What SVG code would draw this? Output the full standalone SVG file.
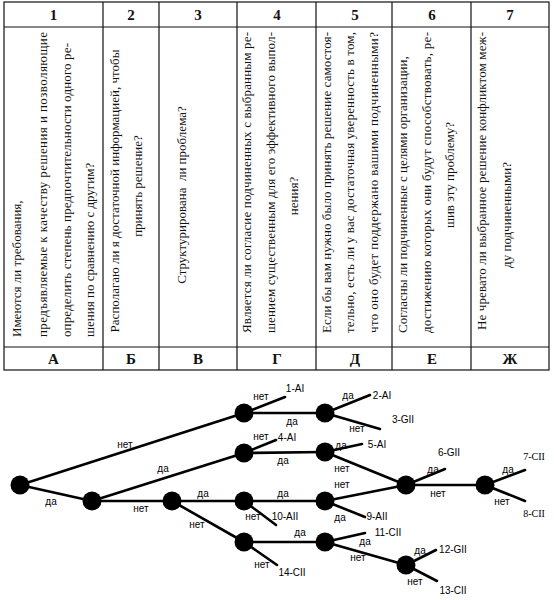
<svg xmlns="http://www.w3.org/2000/svg" width="554" height="600" viewBox="0 0 554 600">
<style>
.grid{stroke:#111;stroke-width:1.2;fill:none}
.hd{font-family:"Liberation Serif","DejaVu Serif",serif;font-size:15px;font-weight:bold;text-anchor:middle;fill:#111}
.tx{font-family:"Liberation Serif","DejaVu Serif",serif;font-size:13px;fill:#111}
.mid{text-anchor:middle}
.edge{stroke:#000;stroke-width:2.6;fill:none;stroke-linecap:round}
.node{fill:#000}
.lb{font-family:"Liberation Sans",Arial,sans-serif;font-size:10px;text-anchor:middle;fill:#000}
.lbs{font-family:"Liberation Serif","Times New Roman",serif;font-size:10px;text-anchor:middle;fill:#000}
</style>
<rect width="554" height="600" fill="#fff"/>
<g id="table">
<rect class="grid" x="4" y="2" width="545" height="368"/>
<line class="grid" x1="4" y1="27" x2="549" y2="27"/>
<line class="grid" x1="4" y1="347" x2="549" y2="347"/>
<line class="grid" x1="103" y1="2" x2="103" y2="370"/>
<line class="grid" x1="159" y1="2" x2="159" y2="370"/>
<line class="grid" x1="237" y1="2" x2="237" y2="370"/>
<line class="grid" x1="316" y1="2" x2="316" y2="370"/>
<line class="grid" x1="392" y1="2" x2="392" y2="370"/>
<line class="grid" x1="471" y1="2" x2="471" y2="370"/>
<text class="hd" x="53.5" y="20">1</text>
<text class="hd" x="131" y="20">2</text>
<text class="hd" x="198" y="20">3</text>
<text class="hd" x="277" y="20">4</text>
<text class="hd" x="355" y="20">5</text>
<text class="hd" x="432" y="20">6</text>
<text class="hd" x="510" y="20">7</text>
<text class="hd" x="53.5" y="364">А</text>
<text class="hd" x="131" y="364">Б</text>
<text class="hd" x="198" y="364">В</text>
<text class="hd" x="277" y="364">Г</text>
<text class="hd" x="355" y="364">Д</text>
<text class="hd" x="432" y="364">Е</text>
<text class="hd" x="510" y="364">Ж</text>
</g>
<g id="col1">
<text class="tx" transform="translate(21,337) rotate(-90)">Имеются ли требования,</text>
<text class="tx" transform="translate(47,337) rotate(-90)" textLength="305" lengthAdjust="spacing">предъявляемые к качеству решения и позволяющие</text>
<text class="tx" transform="translate(71,337) rotate(-90)" textLength="294" lengthAdjust="spacing">определить степень предпочтительности одного ре-</text>
<text class="tx" transform="translate(94,337) rotate(-90)">шения по сравнению с другим?</text>
</g>
<g id="col2">
<text class="tx mid" transform="translate(119,191) rotate(-90)">Располагаю ли я достаточной информацией, чтобы</text>
<text class="tx mid" transform="translate(142,186) rotate(-90)">принять решение?</text>
</g>
<g id="col3">
<text class="tx mid" transform="translate(186,195) rotate(-90)" xml:space="preserve">Структурирована  ли проблема?</text>
</g>
<g id="col4">
<text class="tx" transform="translate(251,333) rotate(-90)" textLength="301" lengthAdjust="spacing">Является ли согласие подчиненных с выбранным ре-</text>
<text class="tx" transform="translate(275,333) rotate(-90)" textLength="301" lengthAdjust="spacing">шением существенным для его эффективного выпол-</text>
<text class="tx mid" transform="translate(298,196) rotate(-90)">нения?</text>
</g>
<g id="col5">
<text class="tx" transform="translate(331,333) rotate(-90)" textLength="301" lengthAdjust="spacing">Если бы вам нужно было принять решение самостоя-</text>
<text class="tx" transform="translate(354,333) rotate(-90)" textLength="301" lengthAdjust="spacing">тельно, есть ли у вас достаточная уверенность в том,</text>
<text class="tx" transform="translate(378,333) rotate(-90)" textLength="301" lengthAdjust="spacing">что оно  будет поддержано вашими подчиненными?</text>
</g>
<g id="col6">
<text class="tx" transform="translate(407,333) rotate(-90)">Согласны ли подчиненные с целями организации,</text>
<text class="tx" transform="translate(431,333) rotate(-90)" textLength="301" lengthAdjust="spacing">достижению которых они будут способствовать, ре-</text>
<text class="tx mid" transform="translate(454,175) rotate(-90)">шив эту проблему?</text>
</g>
<g id="col7">
<text class="tx" transform="translate(486,330) rotate(-90)" textLength="298" lengthAdjust="spacing">Не чревато ли выбранное решение конфликтом меж-</text>
<text class="tx mid" transform="translate(511,215) rotate(-90)">ду подчиненными?</text>
</g>
<g id="connectors">
<line class="edge" x1="20" y1="485" x2="244" y2="413"/>
<line class="edge" x1="20" y1="485" x2="92" y2="501"/>
<line class="edge" x1="92" y1="501" x2="244" y2="453"/>
<line class="edge" x1="92" y1="501" x2="172" y2="501"/>
<line class="edge" x1="172" y1="501" x2="244" y2="501"/>
<line class="edge" x1="172" y1="501" x2="244" y2="542"/>
<line class="edge" x1="244" y1="413" x2="285" y2="397"/>
<line class="edge" x1="244" y1="413" x2="325" y2="413"/>
<line class="edge" x1="325" y1="413" x2="370" y2="395"/>
<line class="edge" x1="325" y1="413" x2="380" y2="429"/>
<line class="edge" x1="244" y1="453" x2="276" y2="440"/>
<line class="edge" x1="244" y1="453" x2="325" y2="452"/>
<line class="edge" x1="325" y1="452" x2="362" y2="444"/>
<line class="edge" x1="325" y1="452" x2="406" y2="485"/>
<line class="edge" x1="244" y1="501" x2="325" y2="501"/>
<line class="edge" x1="244" y1="501" x2="276" y2="525"/>
<line class="edge" x1="325" y1="501" x2="406" y2="485"/>
<line class="edge" x1="325" y1="501" x2="365" y2="517"/>
<line class="edge" x1="244" y1="542" x2="325" y2="542"/>
<line class="edge" x1="244" y1="542" x2="277" y2="565"/>
<line class="edge" x1="325" y1="542" x2="365" y2="533"/>
<line class="edge" x1="325" y1="542" x2="406" y2="565"/>
<line class="edge" x1="406" y1="485" x2="445" y2="469"/>
<line class="edge" x1="406" y1="485" x2="485" y2="485"/>
<line class="edge" x1="406" y1="565" x2="436" y2="550"/>
<line class="edge" x1="406" y1="565" x2="437" y2="581"/>
<line class="edge" x1="485" y1="485" x2="525" y2="470"/>
<line class="edge" x1="485" y1="485" x2="525" y2="501"/>
</g>
<g id="n0"><circle class="node" cx="20" cy="485" r="9.5"/></g>
<g id="n1"><circle class="node" cx="92" cy="501" r="9.5"/></g>
<g id="n2"><circle class="node" cx="244" cy="413" r="9.5"/></g>
<g id="n3"><circle class="node" cx="244" cy="453" r="9.5"/></g>
<g id="n4"><circle class="node" cx="172" cy="501" r="9.5"/></g>
<g id="n5"><circle class="node" cx="244" cy="501" r="9.5"/></g>
<g id="n6"><circle class="node" cx="244" cy="542" r="9.5"/></g>
<g id="n7"><circle class="node" cx="325" cy="413" r="9.5"/></g>
<g id="n8"><circle class="node" cx="325" cy="452" r="9.5"/></g>
<g id="n9"><circle class="node" cx="325" cy="501" r="9.5"/></g>
<g id="n10"><circle class="node" cx="325" cy="542" r="9.5"/></g>
<g id="n11"><circle class="node" cx="406" cy="485" r="9.5"/></g>
<g id="n12"><circle class="node" cx="406" cy="565" r="9.5"/></g>
<g id="n13"><circle class="node" cx="485" cy="485" r="9.5"/></g>
<g id="labels">
<text class="lb" x="125" y="447.5">нет</text>
<text class="lb" x="51" y="504.5">да</text>
<text class="lb" x="163" y="471.5">да</text>
<text class="lb" x="141" y="511.5">нет</text>
<text class="lb" x="203" y="496.5">да</text>
<text class="lb" x="197" y="527.5">нет</text>
<text class="lb" x="261" y="399.5">нет</text>
<text class="lb" x="295" y="391.5">1-AI</text>
<text class="lb" x="292" y="424.5">да</text>
<text class="lb" x="348" y="398.5">да</text>
<text class="lb" x="382" y="398.5">2-AI</text>
<text class="lb" x="357" y="431.5">нет</text>
<text class="lb" x="403" y="422.5">3-GII</text>
<text class="lb" x="261" y="439.5">нет</text>
<text class="lb" x="287" y="440.5">4-AI</text>
<text class="lb" x="283" y="463.5">да</text>
<text class="lb" x="341" y="448.5">да</text>
<text class="lb" x="377" y="447.5">5-AI</text>
<text class="lb" x="342" y="471.5">нет</text>
<text class="lb" x="342" y="487.5">нет</text>
<text class="lb" x="283" y="496.5">да</text>
<text class="lb" x="253" y="519.5">нет</text>
<text class="lb" x="285" y="519.5">10-AII</text>
<text class="lb" x="340" y="520.5">да</text>
<text class="lb" x="377" y="519.5">9-AII</text>
<text class="lb" x="300" y="535.5">да</text>
<text class="lb" x="262" y="567.5">нет</text>
<text class="lb" x="292" y="575.5">14-CII</text>
<text class="lb" x="365" y="544.5">да</text>
<text class="lb" x="388" y="535.5">11-CII</text>
<text class="lb" x="358" y="560.5">нет</text>
<text class="lb" x="433" y="472.5">да</text>
<text class="lb" x="449" y="455.5">6-GII</text>
<text class="lb" x="438" y="496.5">нет</text>
<text class="lb" x="420" y="553.5">да</text>
<text class="lb" x="453" y="552.5">12-GII</text>
<text class="lb" x="415" y="584.5">нет</text>
<text class="lb" x="453" y="594">13-CII</text>
<text class="lb" x="508" y="472.5">да</text>
<text class="lbs" x="534" y="459.5">7-CII</text>
<text class="lb" x="502" y="504.5">нет</text>
<text class="lbs" x="534" y="516.5">8-CII</text>
</g>
</svg>
